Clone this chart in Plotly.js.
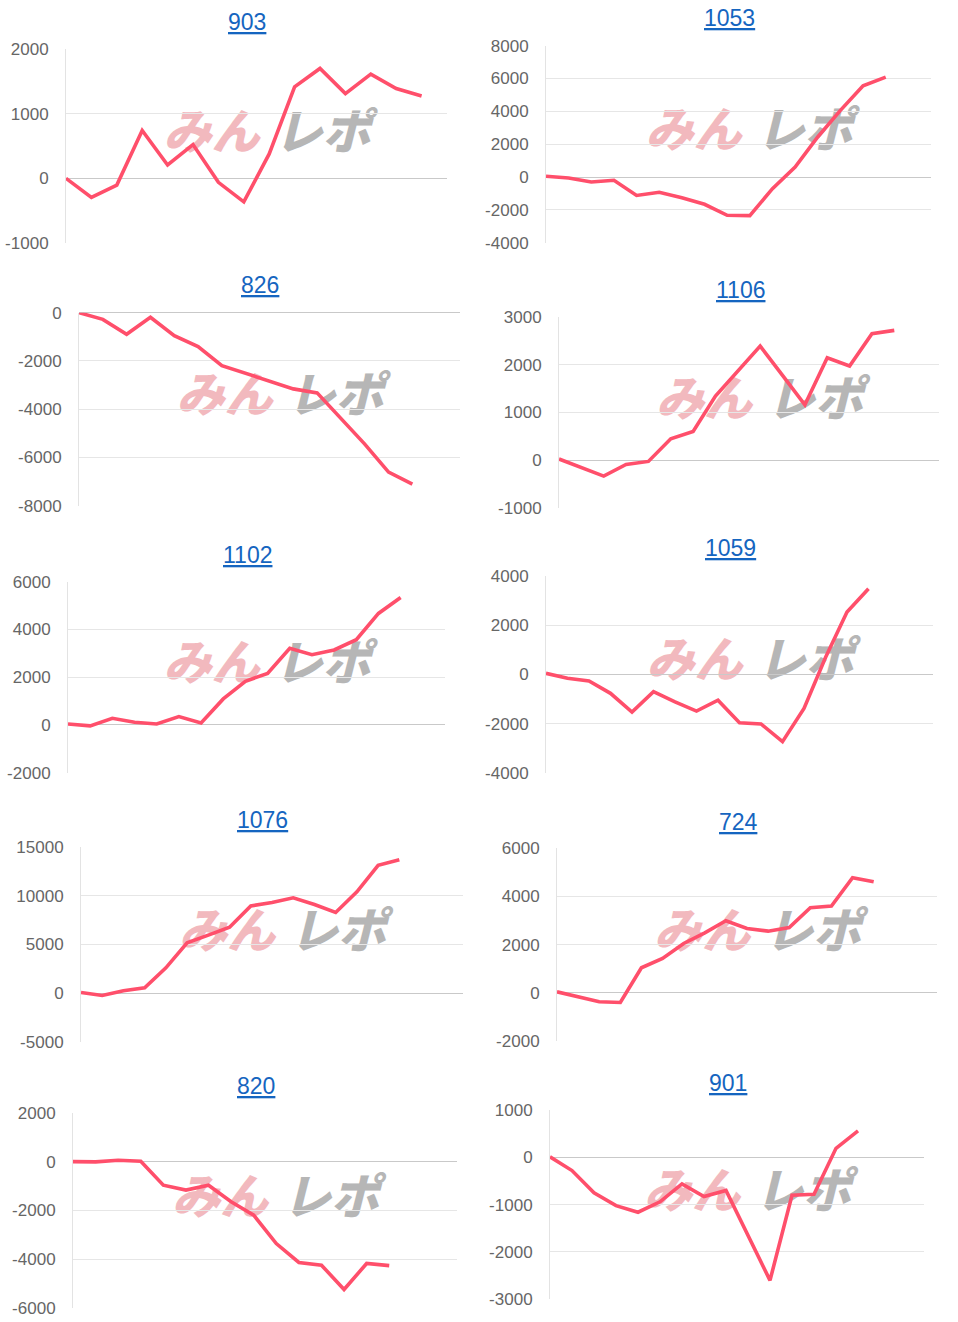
<!DOCTYPE html>
<html>
<head>
<meta charset="utf-8">
<script src="https://cdn.plot.ly/plotly-3.0.1.min.js"></script>
<style>
  html, body { margin: 0; padding: 0; background: #ffffff; }
  #chart { width: 958px; height: 1322px; }
</style>
</head>
<body>
<div id="chart"></div>
<script>
// ---- data ----
const titles = ['903', '1053', '826', '1106', '1102', '1059', '1076', '724', '820', '901'];

const v903  = [0, -295, -104, 741, 207, 523, -62, -363, 378, 1414, 1699, 1311, 1611, 1388, 1274];
const v1053 = [50, -60, -300, -200, -1120, -930, -1260, -1660, -2330, -2350, -710, 610, 2440, 4060, 5560, 6090];
const v826  = [0, -276, -896, -193, -952, -1407, -2193, -2510, -2855, -3158, -3324, -4399, -5447, -6605, -7102];
const v1106 = [30, -140, -327, -84, -21, 452, 605, 1343, 1865, 2387, 1775, 1162, 2144, 1970, 2645, 2714];
const v1102 = [40, -40, 280, 110, 40, 350, 80, 1090, 1830, 2160, 3210, 2940, 3140, 3570, 4670, 5340];
const v1059 = [40, -160, -270, -770, -1530, -700, -1120, -1490, -1050, -1960, -2010, -2730, -1380, 680, 2530, 3470];
const v1076 = [70, -240, 240, 550, 2600, 5170, 5960, 6780, 8970, 9320, 9800, 9110, 8290, 10410, 13150, 13730];
const v724  = [40, -170, -370, -400, 1040, 1430, 2050, 2490, 2990, 2670, 2560, 2710, 3530, 3600, 4780, 4610];
const v820  = [10, 0, 70, 30, -960, -1160, -960, -1640, -2190, -3360, -4140, -4250, -5250, -4180, -4270];
const v901  = [10, -280, -750, -1020, -1160, -940, -560, -830, -700, -1650, -2600, -800, -780, 190, 560];

const series = [v903, v1053, v826, v1106, v1102, v1059, v1076, v724, v820, v901];

// x slots shown on each chart's category axis
const xSlots = [15, 17, 16, 17, 17, 18, 18, 18, 17, 17];
// y axis ranges and tick steps
const yMin  = [-1000, -4000, -8000, -1000, -2000, -4000, -5000, -2000, -6000, -3000];
const yMax  = [2000, 8000, 0, 3000, 6000, 4000, 15000, 6000, 2000, 1000];
const yStep = [1000, 2000, 2000, 1000, 2000, 2000, 5000, 2000, 2000, 1000];

// ---- layout (pixel geometry) ----
const W = 958, H = 1322;
const boxes = [ // [left, right, top, bottom] of plot area, px
  [66, 447, 49, 243],
  [546, 931, 45.7, 242.7],
  [79, 460, 312.7, 505.7],
  [559, 939, 316.7, 508.3],
  [68, 445, 581.7, 772.7],
  [546, 933, 575.7, 773],
  [81, 463, 847.3, 1041.7],
  [557, 937, 848.3, 1041],
  [73, 457, 1113.3, 1307.7],
  [550, 924, 1110, 1299.3]
];
const titlePos = [[247, 22], [729, 18], [260, 285], [740, 290], [248, 555],
                  [730, 548], [262, 820], [738, 822], [256, 1086], [728, 1083]];

const px = x => x / W;
const py = y => 1 - y / H;

const traces = [];
const layout = {
  width: W, height: H,
  margin: {l: 0, r: 0, t: 0, b: 0},
  paper_bgcolor: '#ffffff',
  plot_bgcolor: 'rgba(0,0,0,0)',
  showlegend: false,
  hovermode: false,
  annotations: [],
  shapes: []
};

const tickFont = {family: 'Liberation Sans, Arial, sans-serif', size: 17, color: '#666666'};
const wmFamily = '"Noto Sans CJK JP", "Noto Sans", sans-serif';

series.forEach((vals, i) => {
  const k = i + 1;
  const xa = 'xaxis' + (k === 1 ? '' : k);
  const ya = 'yaxis' + (k === 1 ? '' : k);
  const xr = 'x' + (k === 1 ? '' : k);
  const yr = 'y' + (k === 1 ? '' : k);
  const [l, r, t, b] = boxes[i];

  const tv = [];
  for (let v = yMin[i]; v <= yMax[i]; v += yStep[i]) tv.push(v);

  traces.push({
    type: 'scatter',
    mode: 'lines',
    x: vals.map((_, j) => j),
    y: vals,
    xaxis: xr, yaxis: yr,
    line: {color: '#ff4f6b', width: 3.6},
    cliponaxis: false
  });

  layout[xa] = {
    domain: [px(l), px(r)],
    anchor: yr,
    range: [0, xSlots[i]],
    showgrid: false, zeroline: false, showline: false,
    showticklabels: false, ticks: ''
  };
  layout[ya] = {
    domain: [py(b), py(t)],
    anchor: xr,
    range: [yMin[i], yMax[i]],
    tickmode: 'array',
    tickvals: tv,
    ticktext: tv.map(v => String(v)),
    tickfont: tickFont,
    ticks: '',
    ticklabelstandoff: 13,
    showgrid: true, gridcolor: '#e6e6e6', gridwidth: 1,
    zeroline: true, zerolinecolor: '#c9c9c9', zerolinewidth: 1,
    showline: true, linecolor: '#e3e3e3', linewidth: 1
  };

  // chart title
  layout.annotations.push({
    xref: 'paper', yref: 'paper',
    x: px(titlePos[i][0]), y: py(titlePos[i][1]),
    xanchor: 'center', yanchor: 'middle',
    showarrow: false,
    text: '<u>' + titles[i] + '</u>',
    font: {family: 'Liberation Sans, Arial, sans-serif', size: 23, color: '#1565c0'}
  });

  // watermark logo (behind the line)
  const cx = (l + r) / 2 + 16, cy = (t + b) / 2 - 10;
  const parts = [
    {text: 'みん', c: cx - 61, color: '#f2b9be'},
    {text: 'レポ', c: cx + 50, color: '#b6b6b6'}
  ];
  parts.forEach(p => {
    layout.shapes.push({
      type: 'rect', xref: 'paper', yref: 'paper', layer: 'below',
      x0: px(p.c - 58), x1: px(p.c + 58), y0: py(cy + 22), y1: py(cy - 22),
      line: {width: 0}, fillcolor: 'rgba(0,0,0,0)',
      label: {
        text: p.text, textposition: 'middle center',
        font: {family: wmFamily, size: 48, color: p.color, weight: 900, style: 'italic'}
      }
    });
  });
});

Plotly.newPlot('chart', traces, layout, {staticPlot: true, displayModeBar: false});
</script>
</body>
</html>
